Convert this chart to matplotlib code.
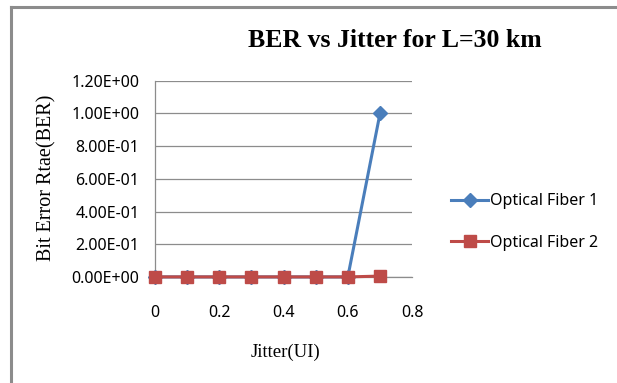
import matplotlib
matplotlib.use("Agg")
import matplotlib.pyplot as plt
from matplotlib.lines import Line2D

jitter = [0, 0.1, 0.2, 0.3, 0.4, 0.5, 0.6, 0.7]
fiber1 = [0, 0, 0, 0, 0, 0, 0, 1.0]
fiber2 = [0, 0, 0, 0, 0, 0, 0, 0.005]
xticks = [0, 0.2, 0.4, 0.6, 0.8]
yticks = [0, 0.2, 0.4, 0.6, 0.8, 1.0, 1.2]

blue = "#4A7EBB"
red = "#BE4B48"
tickfont = "Noto Sans"

fig = plt.figure(figsize=(6.17, 3.83), dpi=100)
ax = fig.add_axes([0.251, 0.277, 0.417, 0.512])

ax.plot(jitter, fiber1, color=blue, lw=2.2, marker="D", ms=7, label="Optical Fiber 1", zorder=3, clip_on=False)
ax.plot(jitter, fiber2, color=red, lw=2.2, marker="s", ms=9, label="Optical Fiber 2", zorder=4, clip_on=False)

ax.set_xlim(0, 0.8)
ax.set_ylim(0, 1.2)
ax.set_xticks(xticks)
ax.set_xticklabels([f"{v:g}" for v in xticks], fontfamily=tickfont, fontsize=11.5)
ax.set_yticks(yticks)
ax.set_yticklabels([f"{v:.2E}" for v in yticks], fontfamily=tickfont, fontsize=11.5)
ax.tick_params(axis="x", length=0, pad=20)
ax.tick_params(axis="y", length=0, pad=11)
ax.grid(axis="y", color="#8c8c8c", lw=0.9)
ax.set_axisbelow(True)
for s in ["top", "right"]:
    ax.spines[s].set_visible(False)
for s in ["left", "bottom"]:
    ax.spines[s].set_color("#8c8c8c")
    ax.spines[s].set_linewidth(0.9)

fig.text(0.64, 0.895, "BER vs Jitter for L=30 km", fontfamily="Liberation Serif",
         fontweight="bold", fontsize=18.5, ha="center", va="center")
fig.text(0.076, 0.535, "Bit Error Rtae(BER)", fontfamily="Liberation Serif",
         fontsize=14.5, rotation=90, ha="center", va="center")
fig.text(0.462, 0.08, "Jitter(UI)", fontfamily="Liberation Serif",
         fontsize=13.5, ha="center", va="center")

handles = [Line2D([], [], color=blue, lw=2.2, marker="D", ms=7),
           Line2D([], [], color=red, lw=2.2, marker="s", ms=9)]
leg = fig.legend(handles, ["Optical Fiber 1", "Optical Fiber 2"], loc="center left",
                 bbox_to_anchor=(0.708, 0.42), frameon=False, handlelength=2.3,
                 handletextpad=0.1, labelspacing=1.6, prop={"family": tickfont, "size": 11.5})

# outer frame (top and left edges)
fig.add_artist(Line2D([0.018, 1.0], [0.983, 0.983], color="#8c8c8c", lw=2.2, transform=fig.transFigure))
fig.add_artist(Line2D([0.018, 0.018], [0.0, 0.983], color="#8c8c8c", lw=2.2, transform=fig.transFigure))

fig.savefig("out.png", dpi=100)
